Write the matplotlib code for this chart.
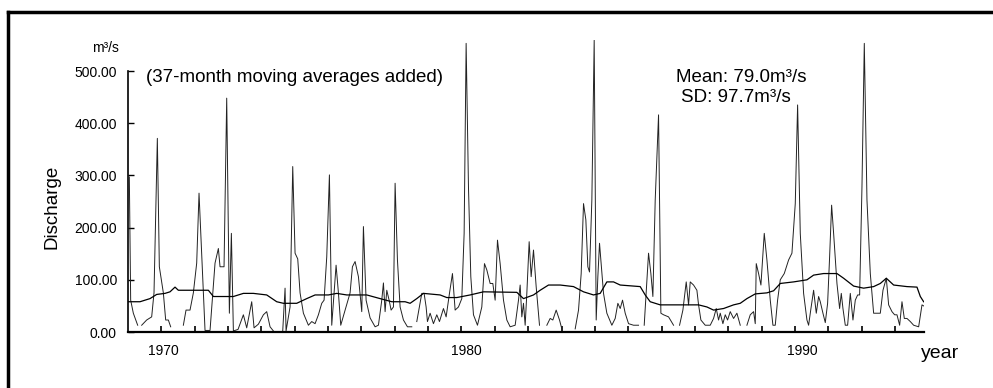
import numpy as np
import matplotlib
matplotlib.use("Agg")
import matplotlib.pyplot as plt
from matplotlib.lines import Line2D
from matplotlib.ticker import FormatStrFormatter

nan = np.nan

# monthly discharge (m3/s); nan = break in the record
flow_year = [
    1970.04, 1970.08, 1970.16, 1970.29, nan,
    1970.41, 1970.56, 1970.71, 1970.78, 1970.88, 1970.94, 1971.06, 1971.13, 1971.21, 1971.28, nan,
    1971.66, 1971.74, 1971.86, 1971.96, 1972.06, 1972.13, 1972.21, 1972.31, 1972.46, 1972.61,
    1972.71, 1972.76, 1972.88, 1972.96, 1973.04, 1973.10, 1973.16, 1973.30, 1973.46, 1973.56,
    1973.71, 1973.78, 1973.91, 1974.06, 1974.16, 1974.26, 1974.36, nan,
    1974.64, 1974.71, 1974.74, 1974.86, 1974.94, 1975.01, 1975.09, 1975.16, 1975.26, 1975.41,
    1975.51, 1975.61, 1975.71, 1975.81, 1975.88, 1975.96, 1976.04, 1976.11, 1976.24, 1976.31,
    1976.38, 1976.51, 1976.66, 1976.73, 1976.81, 1976.91, 1977.01, 1977.06, 1977.14, 1977.26,
    1977.41, 1977.51, 1977.61, 1977.66, 1977.71, 1977.76, 1977.83, 1977.89, 1977.96, 1978.01,
    1978.08, 1978.16, 1978.26, 1978.38, 1978.51, nan,
    1978.66, 1978.81, 1978.88, 1978.94, 1978.98, 1979.06, 1979.16, 1979.26, 1979.34, 1979.46,
    1979.54, 1979.64, 1979.73, 1979.81, 1979.91, 1980.01, 1980.08, 1980.14, 1980.21, 1980.28,
    1980.36, 1980.48, 1980.61, 1980.69, 1980.76, 1980.86, 1980.94, 1981.01, 1981.08, 1981.16,
    1981.26, 1981.36, 1981.46, 1981.61, 1981.71, 1981.76, 1981.81, 1981.86, 1981.91, 1981.96,
    1982.03, 1982.09, 1982.16, 1982.24, 1982.34, nan,
    1982.56, 1982.66, 1982.74, 1982.84, 1982.94, 1983.01, nan,
    1983.41, 1983.51, 1983.59, 1983.66, 1983.73, 1983.79, 1983.84, 1983.91, 1983.98, 1984.04,
    1984.09, 1984.14, 1984.19, 1984.26, 1984.36, 1984.51, 1984.61, 1984.69, 1984.76, 1984.83,
    1984.91, 1985.01, 1985.16, 1985.31, nan,
    1985.48, 1985.61, 1985.68, 1985.74, 1985.81, 1985.91, 1985.98, 1986.06, 1986.21, 1986.36, nan,
    1986.54, 1986.64, 1986.74, 1986.81, 1986.86, 1986.96, 1987.06, 1987.11, 1987.18, 1987.31,
    1987.46, 1987.56, 1987.64, 1987.71, 1987.76, 1987.84, 1987.91, 1987.98, 1988.06, 1988.16,
    1988.26, 1988.36, nan,
    1988.56, 1988.66, 1988.76, 1988.81, 1988.84, 1988.91, 1988.98, 1989.08, 1989.16, 1989.26,
    1989.34, 1989.41, 1989.48, 1989.56, 1989.68, 1989.81, 1989.91, 1990.01, 1990.08, 1990.16,
    1990.26, 1990.36, 1990.41, 1990.48, 1990.56, 1990.64, 1990.71, 1990.76, 1990.84, 1990.91,
    1990.98, 1991.04, 1991.10, 1991.16, 1991.26, 1991.34, 1991.39, 1991.44, 1991.51, 1991.58,
    1991.66, 1991.74, 1991.81, 1991.88, 1991.94, 1992.01, 1992.08, 1992.16, 1992.26, 1992.36,
    1992.48, 1992.56, 1992.64, 1992.74, 1992.81, 1992.91, 1992.99, 1993.06, 1993.14, 1993.21,
    1993.28, 1993.36, 1993.46, 1993.56, 1993.71, 1993.81, 1993.86,
]
flow_q = [
    297, 61, 36, 13, nan,
    13, 23, 29, 75, 371, 125, 75, 23, 23, 10, nan,
    13, 42, 42, 75, 132, 266, 151, 3, 3, 132,
    160, 125, 125, 448, 36, 189, 2, 5, 33, 8,
    58, 8, 15, 33, 39, 10, 2, nan,
    2, 84, 2, 48, 317, 151, 140, 75, 36, 13,
    20, 16, 33, 55, 61, 144, 301, 13, 128, 75,
    13, 42, 75, 125, 135, 106, 39, 202, 61, 27,
    10, 13, 61, 94, 39, 80, 61, 42, 48, 285,
    138, 48, 23, 10, 10, nan,
    20, 74, 74, 48, 20, 36, 16, 33, 20, 45,
    29, 74, 112, 42, 48, 64, 189, 553, 278, 106,
    33, 13, 48, 131, 119, 93, 93, 61, 176, 131,
    61, 23, 10, 13, 61, 90, 29, 55, 13, 74,
    173, 106, 157, 87, 13, nan,
    13, 26, 23, 42, 23, 6, nan,
    6, 42, 112, 246, 215, 125, 115, 253, 559, 23,
    106, 170, 131, 74, 36, 13, 26, 55, 45, 61,
    36, 16, 13, 13, nan,
    13, 151, 112, 68, 253, 416, 36, 33, 29, 13, nan,
    13, 42, 96, 52, 96, 90, 80, 52, 23, 13,
    13, 26, 45, 23, 36, 16, 33, 23, 39, 26,
    36, 13, nan,
    13, 33, 39, 16, 131, 112, 90, 189, 138, 61,
    13, 13, 61, 100, 112, 138, 151, 246, 435, 189,
    74, 23, 13, 45, 80, 36, 68, 58, 36, 18,
    55, 144, 243, 189, 93, 45, 74, 45, 13, 13,
    74, 23, 61, 71, 71, 278, 553, 253, 112, 36,
    36, 36, 80, 103, 52, 39, 33, 33, 13, 58,
    26, 26, 20, 13, 10, 52, 50,
]

# 37-month moving average
ma_year = [
    1970.01, 1970.36, 1970.66, 1970.86, 1971.11, 1971.26, 1971.41, 1971.51, 1972.41, 1972.56,
    1973.16, 1973.46, 1973.76, 1974.16, 1974.46, 1974.66, 1975.06, 1975.36, 1975.61, 1976.01,
    1976.26, 1976.56, 1977.16, 1977.56, 1977.91, 1978.31, 1978.46, 1978.66, 1978.86, 1979.36,
    1979.56, 1979.86, 1980.26, 1980.66, 1981.66, 1981.86, 1982.16, 1982.36, 1982.61, 1982.96,
    1983.36, 1983.66, 1983.96, 1984.16, 1984.36, 1984.56, 1984.76, 1985.36, 1985.51, 1985.66,
    1985.96, 1987.11, 1987.36, 1987.56, 1987.86, 1988.16, 1988.36, 1988.56, 1988.81, 1989.16,
    1989.36, 1989.56, 1989.96, 1990.36, 1990.56, 1990.86, 1991.26, 1991.46, 1991.76, 1992.06,
    1992.36, 1992.56, 1992.74, 1992.96, 1993.36, 1993.66, 1993.76, 1993.86,
]
ma_q = [
    58, 58, 64, 72, 74, 77, 86, 80, 80, 68,
    68, 74, 74, 71, 58, 55, 55, 64, 71, 71,
    74, 71, 71, 64, 58, 58, 55, 64, 74, 71,
    66, 66, 71, 77, 76, 64, 71, 80, 90, 90,
    87, 77, 71, 74, 96, 96, 90, 87, 71, 58,
    52, 52, 48, 42, 45, 52, 55, 64, 73, 75,
    79, 93, 96, 100, 109, 112, 112, 103, 88, 84,
    87, 93, 103, 90, 87, 86, 68, 58,
]

y_ticks = [0, 100, 200, 300, 400, 500]
year_labels = ["1970", "1980", "1990"]
year_label_x = [1971.05, 1980.16, 1990.23]

plt.rcParams["font.family"] = ["Liberation Sans", "DejaVu Sans"]

fig = plt.figure(figsize=(9.93, 3.88), dpi=100)
ax = fig.add_axes([0.1289, 0.1443, 0.8016, 0.7534])

ax.plot(flow_year, flow_q, color="#222222", lw=0.7)
ax.plot(ma_year, ma_q, color="black", lw=0.9)

ax.set_xlim(1970, 1993.87)
ax.set_ylim(0, 560)
for s in ("top", "right"):
    ax.spines[s].set_visible(False)
ax.spines["left"].set_bounds(0, 500)
ax.spines["left"].set_linewidth(1.2)
ax.spines["bottom"].set_linewidth(1.6)

ax.set_yticks(y_ticks)
ax.yaxis.set_major_formatter(FormatStrFormatter("%.2f"))
ax.tick_params(axis="y", direction="in", length=4, width=1, labelsize=10, pad=8)
ax.set_xticks(range(1971, 1994))
ax.set_xticklabels([])
ax.tick_params(axis="x", direction="in", length=4, width=1.2)

tr = ax.get_xaxis_transform()
for lab, x in zip(year_labels, year_label_x):
    ax.text(x, -0.065, lab, transform=tr, ha="center", va="center", fontsize=10)

fig.text(52 / 993, 1 - 207 / 388, "Discharge", rotation=90, ha="center", va="center", fontsize=13.5)
fig.text(105 / 993, 1 - 48 / 388, "m³/s", ha="center", va="center", fontsize=10)
fig.text(940 / 993, 1 - 354 / 388, "year", ha="center", va="center", fontsize=14)
fig.text(146 / 993, 1 - 78 / 388, "(37-month moving averages added)", ha="left", va="center", fontsize=13.5)
fig.text(676 / 993, 1 - 77 / 388, "Mean: 79.0m³/s", ha="left", va="center", fontsize=13.5)
fig.text(681 / 993, 1 - 98 / 388, "SD: 97.7m³/s", ha="left", va="center", fontsize=13.5)

# scanned page border (only top and left edges are in frame)
fig.add_artist(Line2D([8 / 993, 8 / 993], [0, 1 - 12 / 388], color="black", lw=2.5))
fig.add_artist(Line2D([8 / 993, 1], [1 - 12 / 388, 1 - 12 / 388], color="black", lw=2.5))

fig.savefig("out.png", dpi=100)
